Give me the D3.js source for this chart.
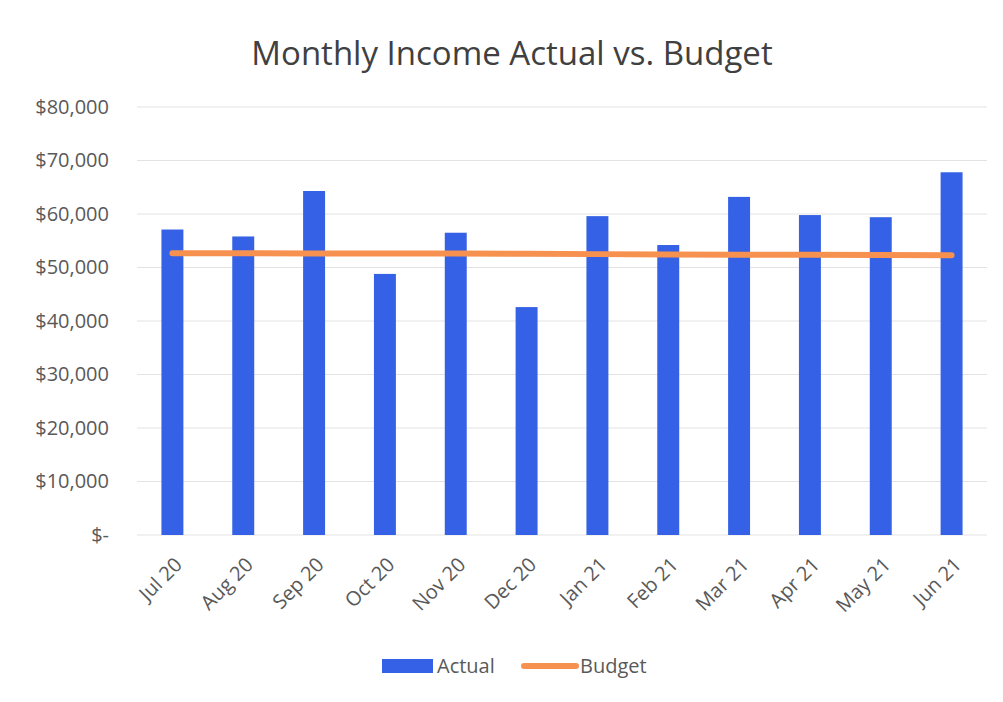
<!DOCTYPE html>
<html>
<head>
<meta charset="utf-8">
<script src="https://cdn.jsdelivr.net/npm/d3@7"></script>
<style>
	body { margin: 0; background: #fff; }
	svg text { font-family: "Open Sans", "Noto Sans", sans-serif; fill: #595959; }
</style>
</head>
<body>
<svg id="chart" width="1003" height="702"></svg>
<script>
//chart data
var months = ['Jul 20','Aug 20','Sep 20','Oct 20','Nov 20','Dec 20','Jan 21','Feb 21','Mar 21','Apr 21','May 21','Jun 21'];
var actual = [57100, 55800, 64300, 48800, 56500, 42600, 59600, 54200, 63200, 59800, 59400, 67800];
var budget = [52650, 52650, 52600, 52600, 52600, 52550, 52500, 52450, 52400, 52400, 52350, 52300];
var yTicks = [0, 10000, 20000, 30000, 40000, 50000, 60000, 70000, 80000];

var svg = d3.select('#chart');
var margin = {left: 137, right: 16, top: 107, bottom: 167};
var width = 1003 - margin.left - margin.right;
var height = 702 - margin.top - margin.bottom;

var x = d3.scaleBand().domain(months).range([0, width]).paddingInner(0.69).paddingOuter(0.345);
var y = d3.scaleLinear().domain([0, 80000]).range([height, 0]);

//title
svg.append('text')
	.attr('x', 512).attr('y', 65)
	.attr('text-anchor', 'middle')
	.style('font-size', '33px')
	.style('fill', '#404040')
	.text('Monthly Income Actual vs. Budget');

var g = svg.append('g').attr('transform', 'translate(' + margin.left + ',' + margin.top + ')');

//grid lines
g.selectAll('line.grid')
	.data(yTicks)
	.enter().append('line')
	.attr('class', 'grid')
	.attr('x1', 0).attr('x2', width)
	.attr('y1', function(d) { return y(d); })
	.attr('y2', function(d) { return y(d); })
	.attr('stroke', '#e3e3e3')
	.attr('stroke-width', 1);

//y axis labels
var yAxis = d3.axisLeft(y)
	.tickValues(yTicks)
	.tickSize(0)
	.tickPadding(28)
	.tickFormat(function(d) { return d == 0 ? '$-' : '$' + d3.format(',')(d); });
var ya = g.append('g').call(yAxis);
ya.select('.domain').remove();
ya.selectAll('text').style('font-size', '20px').style('fill', '#595959');

//bars
g.selectAll('rect.bar')
	.data(actual)
	.enter().append('rect')
	.attr('class', 'bar')
	.attr('x', function(d, i) { return x(months[i]); })
	.attr('width', x.bandwidth())
	.attr('y', function(d) { return y(d); })
	.attr('height', function(d) { return height - y(d); })
	.attr('fill', '#3461e5');

//budget line
var line = d3.line()
	.x(function(d, i) { return x(months[i]) + x.bandwidth() / 2; })
	.y(function(d) { return y(d); });
g.append('path')
	.datum(budget)
	.attr('d', line)
	.attr('fill', 'none')
	.attr('stroke', '#f79150')
	.attr('stroke-width', 6)
	.attr('stroke-linecap', 'round');

//x axis labels
var xAxis = d3.axisBottom(x).tickSize(0).tickPadding(0);
var xa = g.append('g').attr('transform', 'translate(0,' + height + ')').call(xAxis);
xa.select('.domain').remove();
xa.selectAll('text')
	.style('font-size', '20px')
	.style('fill', '#595959')
	.attr('text-anchor', 'end')
	.attr('dy', null)
	.attr('transform', 'translate(11,31) rotate(-45)');

//legend
var leg = svg.append('g').attr('transform', 'translate(382,659)');
leg.append('rect').attr('width', 51).attr('height', 14).attr('fill', '#3461e5');
leg.append('text').attr('x', 55).attr('y', 14).style('font-size', '20px').text('Actual');
leg.append('line').attr('x1', 142).attr('x2', 194).attr('y1', 7).attr('y2', 7)
	.attr('stroke', '#f79150').attr('stroke-width', 6).attr('stroke-linecap', 'round');
leg.append('text').attr('x', 198).attr('y', 14).style('font-size', '20px').text('Budget');
</script>
</body>
</html>
